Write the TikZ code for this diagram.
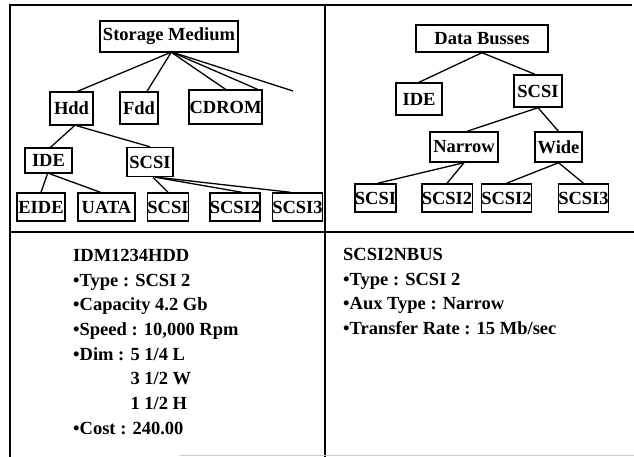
\documentclass[tikz,border=0pt]{standalone}
\usepackage{fontspec}
\setmainfont{Liberation Serif}
\begin{document}
\begin{tikzpicture}[x=1pt,y=-1pt,
  box/.style={draw,line width=1.4pt,inner sep=0pt,font=\fontsize{18.5}{20}\selectfont\bfseries},
  link/.style={line width=1.3pt},
  frame/.style={line width=1.6pt},
  info/.style={anchor=north west,inner sep=0pt,align=left,font=\fontsize{18.5}{24.7}\selectfont\bfseries}]
\useasboundingbox (0,0) rectangle (634,457);
% frame
\draw[frame] (10,457) -- (10,5) -- (632,5);
\draw[frame] (325,5) -- (325,457);
\draw[frame] (10,232) -- (634,232);
\draw[line width=0.6pt,gray!40] (180,455) -- (634,455);
% left tree
\node[box,minimum width=138pt,minimum height=31pt] (sm) at (169,36.5) {Storage Medium};
\node[box,minimum width=43pt,minimum height=33pt] (hdd) at (71.5,108.5) {Hdd};
\node[box,minimum width=38pt,minimum height=32pt] (fdd) at (139,108) {Fdd};
\node[box,minimum width=73pt,minimum height=34pt] (cd) at (225.5,107) {CDROM};
\coordinate (free) at (293,91);
\node[box,minimum width=47pt,minimum height=25pt] (ide) at (48.5,160.5) {IDE};
\node[box,minimum width=46pt,minimum height=29pt] (scsi) at (150,162) {SCSI};
\node[box,minimum width=48pt,minimum height=28pt] (eide) at (41,207) {EIDE};
\node[box,minimum width=57pt,minimum height=28pt] (uata) at (106.5,207) {UATA};
\node[box,minimum width=40pt,minimum height=28pt] (ls1) at (168,207) {SCSI};
\node[box,minimum width=50pt,minimum height=28pt] (ls2) at (235,207) {SCSI2};
\node[box,minimum width=49pt,minimum height=28pt] (ls3) at (297.5,207) {SCSI3};
\draw[link] ([xshift=1pt]sm.south) -- ([xshift=6pt]hdd.north);
\draw[link] ([xshift=2pt]sm.south) -- ([xshift=8pt]fdd.north);
\draw[link] ([xshift=3pt]sm.south) -- (cd.north);
\draw[link] ([xshift=4pt]sm.south) -- ([xshift=32pt]cd.north);
\draw[link] ([xshift=5pt]sm.south) -- (free);
\draw[link] ([xshift=3pt]hdd.south) -- ([xshift=2pt]ide.north);
\draw[link] ([xshift=5pt]hdd.south) -- (scsi.north);
\draw[link] ([xshift=-1pt]ide.south) -- (eide.north);
\draw[link] ([xshift=1pt]ide.south) -- ([xshift=-6pt]uata.north);
\draw[link] ([xshift=3pt]scsi.south) -- (ls1.north);
\draw[link] ([xshift=5pt]scsi.south) -- ([xshift=7pt]ls2.north);
\draw[link] ([xshift=7pt]scsi.south) -- ([xshift=-7pt]ls3.north);
% right tree
\node[box,minimum width=132pt,minimum height=27pt] (db) at (482,38.5) {Data Busses};
\node[box,minimum width=46pt,minimum height=32pt] (ride) at (419,99) {IDE};
\node[box,minimum width=48pt,minimum height=32pt] (rscsi) at (538,91) {SCSI};
\node[box,minimum width=68pt,minimum height=30pt] (narrow) at (464,147) {Narrow};
\node[box,minimum width=47pt,minimum height=30pt] (wide) at (558.5,147) {Wide};
\node[box,minimum width=39pt,minimum height=28pt] (r1) at (375.5,198) {SCSI};
\node[box,minimum width=47pt,minimum height=28pt] (r2) at (447,198) {SCSI2};
\node[box,minimum width=43pt,minimum height=28pt] (r3) at (506.5,198) {SCSI2};
\node[box,minimum width=43pt,minimum height=28pt] (r4) at (583.5,198) {SCSI3};
\draw[link] (db.south) -- (ride.north);
\draw[link] (db.south) -- ([xshift=-3pt]rscsi.north);
\draw[link] (rscsi.south) -- ([xshift=3pt]narrow.north);
\draw[link] (rscsi.south) -- (wide.north);
\draw[link] (narrow.south) -- ([xshift=2pt]r1.north);
\draw[link] (narrow.south) -- (r2.north);
\draw[link] (wide.south) -- (r3.north);
\draw[link] (wide.south) -- (r4.north);
% info texts
\node[info] (t1) at (73,249) {IDM1234HDD\\
\textbullet Type : SCSI 2\\
\textbullet Capacity 4.2 Gb\\
\textbullet Speed : 10,000 Rpm\\
\textbullet Dim : 5 1/4 L\\
\hphantom{\textbullet Dim : }3 1/2 W\\
\hphantom{\textbullet Dim : }1 1/2 H\\
\textbullet Cost : 240.00};
\node[info] (t2) at (343,248) {SCSI2NBUS\\
\textbullet Type : SCSI 2\\
\textbullet Aux Type : Narrow\\
\textbullet Transfer Rate : 15 Mb/sec};
\end{tikzpicture}
\end{document}
